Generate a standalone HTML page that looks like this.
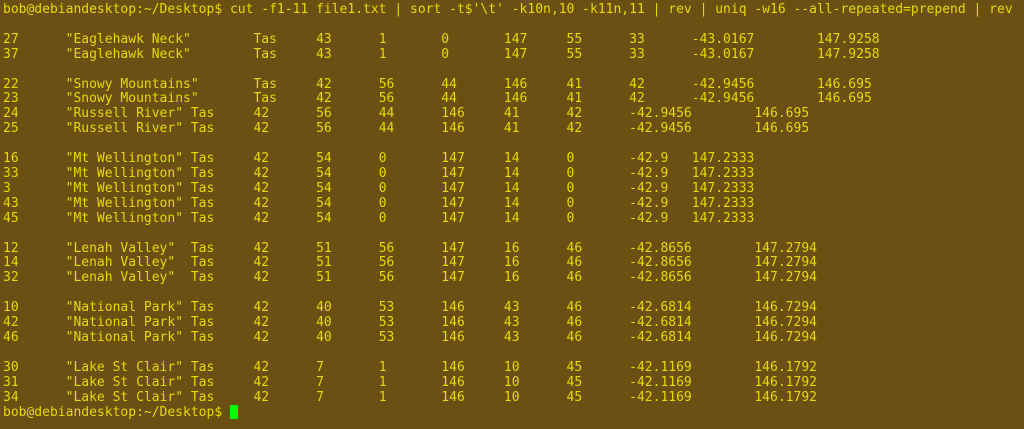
<!DOCTYPE html>
<html><head><meta charset="utf-8"><style>
html,body{margin:0;padding:0;width:1024px;height:429px;overflow:hidden;background:#6b4f13;}
#term{position:absolute;left:3px;top:3px;margin:0;font-family:"DejaVu Sans Mono","Liberation Mono",monospace;font-size:13px;line-height:14.9px;color:#e6da00;white-space:pre;tab-size:8;-moz-tab-size:8;}
.cur{display:inline-block;width:8px;height:14px;background:#00ff00;vertical-align:-3px;}
</style></head><body>
<pre id="term"><span>bob@debiandesktop:~/Desktop$ cut -f1-11 file1.txt | sort -t$'\t' -k10n,10 -k11n,11 | rev | uniq -w16 --all-repeated=prepend | rev</span>

27	"Eaglehawk Neck"	Tas	43	1	0	147	55	33	-43.0167	147.9258
37	"Eaglehawk Neck"	Tas	43	1	0	147	55	33	-43.0167	147.9258

22	"Snowy Mountains"	Tas	42	56	44	146	41	42	-42.9456	146.695
23	"Snowy Mountains"	Tas	42	56	44	146	41	42	-42.9456	146.695
24	"Russell River" Tas	42	56	44	146	41	42	-42.9456	146.695
25	"Russell River" Tas	42	56	44	146	41	42	-42.9456	146.695

16	"Mt Wellington" Tas	42	54	0	147	14	0	-42.9	147.2333
33	"Mt Wellington" Tas	42	54	0	147	14	0	-42.9	147.2333
3	"Mt Wellington" Tas	42	54	0	147	14	0	-42.9	147.2333
43	"Mt Wellington" Tas	42	54	0	147	14	0	-42.9	147.2333
45	"Mt Wellington" Tas	42	54	0	147	14	0	-42.9	147.2333

12	"Lenah Valley"  Tas	42	51	56	147	16	46	-42.8656	147.2794
14	"Lenah Valley"  Tas	42	51	56	147	16	46	-42.8656	147.2794
32	"Lenah Valley"  Tas	42	51	56	147	16	46	-42.8656	147.2794

10	"National Park" Tas	42	40	53	146	43	46	-42.6814	146.7294
42	"National Park" Tas	42	40	53	146	43	46	-42.6814	146.7294
46	"National Park" Tas	42	40	53	146	43	46	-42.6814	146.7294

30	"Lake St Clair" Tas	42	7	1	146	10	45	-42.1169	146.1792
31	"Lake St Clair" Tas	42	7	1	146	10	45	-42.1169	146.1792
34	"Lake St Clair" Tas	42	7	1	146	10	45	-42.1169	146.1792
<span>bob@debiandesktop:~/Desktop$ </span><span class="cur"></span></pre>
</body></html>
